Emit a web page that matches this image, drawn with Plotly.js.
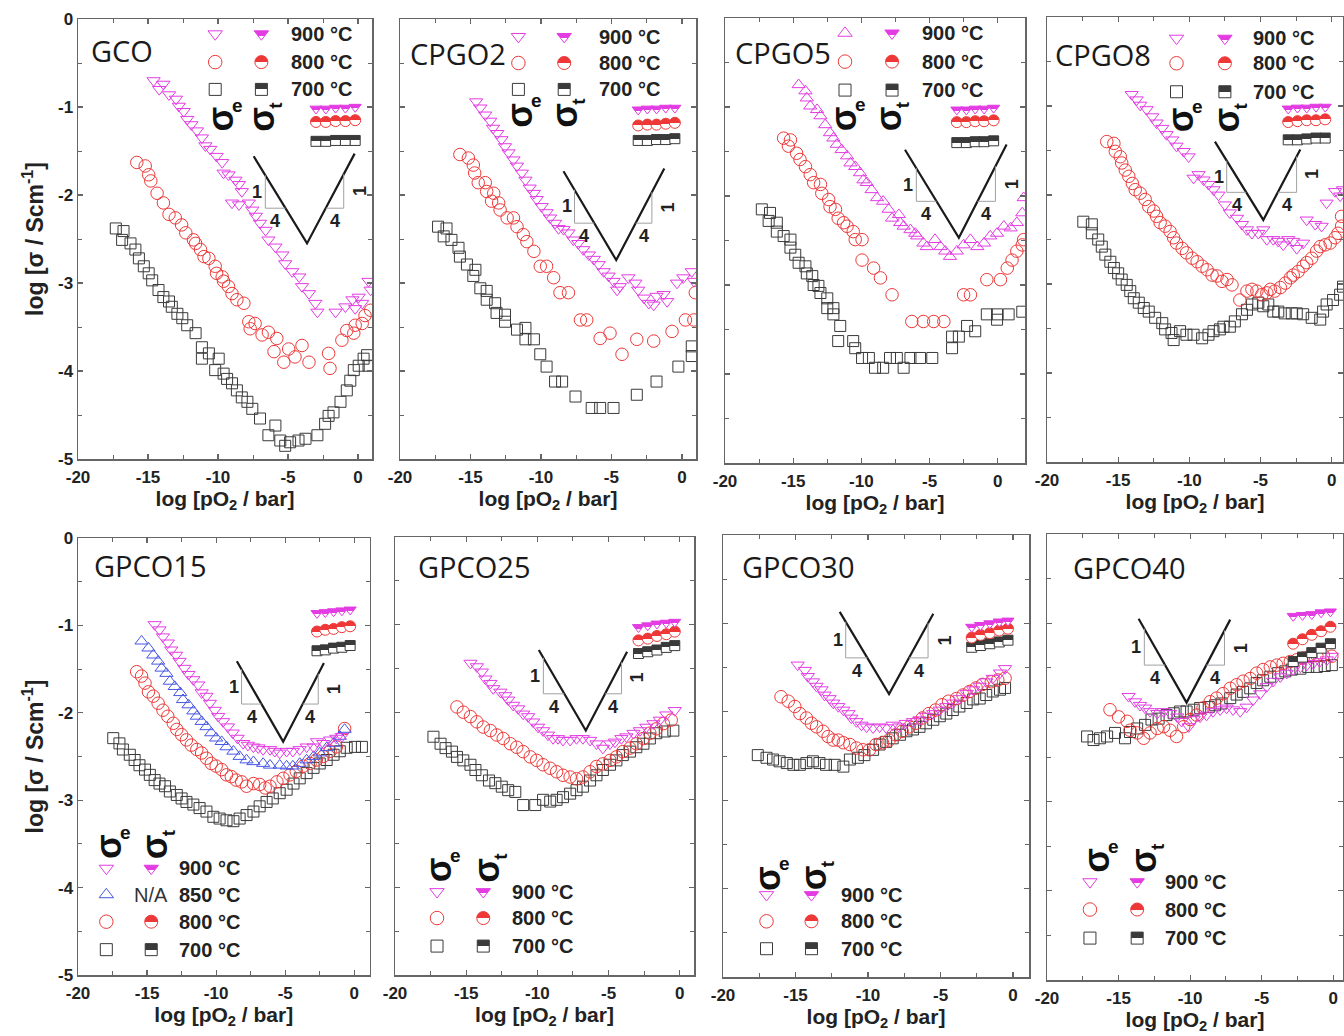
<!DOCTYPE html>
<html><head><meta charset="utf-8">
<script src="https://cdn.plot.ly/plotly-3.0.1.min.js"></script>
<style>html,body{margin:0;padding:0;background:#fff}#chart{width:1344px;height:1036px}</style>
</head><body><div id="chart"></div>
<script>
// ---------------- DATA ----------------
const xTickVals = [-20,-15,-10,-5,0];
const xTickText = ['-20','-15','-10','-5','0'];
const yTickVals = [0,-1,-2,-3,-4,-5];
const yTickText = ['0','-1','-2','-3','-4','-5'];
const tempLabels = ['900 °C','850 °C','800 °C','700 °C'];
const panelNames = ['GCO','CPGO2','CPGO5','CPGO8','GPCO15','GPCO25','GPCO30','GPCO40'];

// GCO
const gco_e900_x = [-14.6,-13.9,-14.2,-13.5,-13.0,-12.8,-12.45,-12.2,-11.9,-11.5,-11.15,-10.9,-10.55,-10.1,-9.7,-9.6,-9.25,-8.75,-8.5,-8.3,-9.0,-8.5,-7.8,-7.55,-7.3,-7.0,-6.6,-6.4,-5.9,-5.4,-5.2,-4.7,-4.2,-4.0,-3.5,-3.05,-2.9,-1.6,-0.9,-0.4,-0.2,0.05,0.75,0.9,0.3];
const gco_e900_y = [-0.70,-0.74,-0.80,-0.86,-0.91,-0.99,-1.05,-1.14,-1.20,-1.27,-1.35,-1.44,-1.48,-1.56,-1.63,-1.75,-1.77,-1.83,-1.88,-1.96,-2.09,-2.11,-2.09,-2.17,-2.24,-2.32,-2.40,-2.51,-2.59,-2.68,-2.78,-2.87,-2.93,-3.04,-3.12,-3.23,-3.33,-3.33,-3.27,-3.19,-3.29,-3.16,-2.98,-3.08,-3.23];
const gco_e800_x = [-15.8,-15.2,-14.95,-14.8,-14.35,-13.9,-13.5,-13.05,-12.6,-12.3,-11.75,-11.6,-11.25,-11.0,-10.65,-10.2,-10.1,-9.7,-9.6,-9.25,-9.0,-8.65,-8.15,-7.8,-7.35,-7.7,-6.85,-6.4,-5.8,-6.0,-5.3,-4.95,-4.5,-4.0,-3.5,-2.1,-2.0,-1.15,-0.8,-0.3,-0.2,0.3,0.5,0.9];
const gco_e800_y = [-1.63,-1.67,-1.77,-1.84,-1.98,-2.09,-2.22,-2.26,-2.34,-2.43,-2.51,-2.55,-2.62,-2.70,-2.72,-2.81,-2.89,-2.93,-2.98,-3.04,-3.12,-3.19,-3.23,-3.44,-3.46,-3.52,-3.59,-3.56,-3.63,-3.78,-3.90,-3.75,-3.84,-3.71,-3.90,-3.80,-3.97,-3.65,-3.54,-3.57,-3.48,-3.46,-3.37,-3.31];
const gco_e700_x = [-17.3,-16.75,-16.85,-16.25,-15.9,-15.65,-15.3,-14.95,-14.7,-14.25,-13.9,-13.5,-13.3,-12.9,-12.55,-12.2,-11.6,-11.15,-11.15,-10.65,-9.95,-10.2,-9.6,-9.35,-9.0,-8.65,-8.3,-7.9,-7.55,-7.0,-5.9,-6.4,-5.55,-5.2,-4.85,-4.25,-3.75,-2.9,-2.35,-2.1,-1.75,-1.25,-0.8,-0.55,-0.3,0.05,0.4,0.65,0.75];
const gco_e700_y = [-2.38,-2.41,-2.51,-2.55,-2.62,-2.72,-2.81,-2.89,-2.97,-3.08,-3.16,-3.21,-3.27,-3.35,-3.40,-3.48,-3.57,-3.73,-3.86,-3.80,-3.86,-3.99,-4.03,-4.09,-4.14,-4.22,-4.30,-4.35,-4.43,-4.54,-4.62,-4.73,-4.79,-4.85,-4.81,-4.79,-4.77,-4.73,-4.60,-4.51,-4.47,-4.35,-4.22,-4.11,-3.99,-3.94,-3.86,-3.82,-3.94];
const gco_t_x = [-3.0,-2.3,-1.6,-0.9,-0.2];
const gco_t900_y = [-1.02,-1.02,-1.01,-1.01,-1.00];
const gco_t800_y = [-1.17,-1.17,-1.16,-1.16,-1.15];
const gco_t700_y = [-1.39,-1.39,-1.38,-1.38,-1.38];

// CPGO2
const c2_e900_x = [-14.6,-14.3,-13.95,-13.6,-13.4,-13.1,-12.8,-12.55,-12.3,-11.95,-11.7,-11.35,-11.1,-10.8,-10.5,-10.3,-9.95,-9.6,-9.35,-9.0,-8.75,-8.4,-8.05,-7.7,-7.35,-7.0,-6.6,-6.25,-5.9,-5.55,-5.2,-4.85,-4.6,-4.4,-3.8,-3.3,-3.1,-2.7,-2.35,-2.0,-1.8,-1.3,-1.05,-0.35,0.1,0.7,0.85];
const c2_e900_y = [-0.94,-1.01,-1.09,-1.16,-1.24,-1.30,-1.37,-1.45,-1.52,-1.60,-1.67,-1.75,-1.83,-1.92,-1.98,-2.05,-2.13,-2.20,-2.26,-2.32,-2.38,-2.39,-2.43,-2.51,-2.55,-2.62,-2.68,-2.73,-2.79,-2.87,-2.92,-2.98,-3.08,-3.04,-2.94,-3.00,-3.08,-3.17,-3.23,-3.25,-3.15,-3.13,-3.21,-3.00,-2.94,-2.87,-2.98];
const c2_e800_x = [-15.75,-15.15,-14.8,-14.7,-14.45,-13.95,-13.85,-13.35,-13.5,-13.0,-12.9,-12.4,-11.95,-11.7,-11.25,-11.0,-10.5,-10.05,-9.6,-9.1,-8.65,-8.05,-7.2,-6.75,-5.8,-5.1,-4.25,-3.2,-2.0,-0.7,0.25,0.85,0.95];
const c2_e800_y = [-1.54,-1.58,-1.66,-1.75,-1.86,-1.86,-1.96,-1.98,-2.07,-2.09,-2.17,-2.26,-2.26,-2.36,-2.45,-2.53,-2.64,-2.81,-2.81,-2.94,-3.11,-3.11,-3.42,-3.42,-3.63,-3.57,-3.81,-3.64,-3.66,-3.55,-3.42,-3.42,-3.11];
const c2_e700_x = [-17.3,-16.7,-16.9,-16.35,-15.85,-15.75,-15.25,-14.65,-14.8,-14.3,-13.85,-13.85,-13.25,-13.15,-12.55,-12.55,-11.7,-11.1,-11.1,-10.5,-10.05,-9.6,-9.0,-8.5,-7.55,-6.4,-5.8,-4.85,-3.2,-1.8,-0.25,0.7,0.7];
const c2_e700_y = [-2.36,-2.38,-2.47,-2.51,-2.60,-2.70,-2.79,-2.85,-2.92,-3.06,-3.09,-3.19,-3.23,-3.34,-3.36,-3.44,-3.53,-3.51,-3.64,-3.64,-3.81,-3.95,-4.12,-4.12,-4.29,-4.42,-4.42,-4.42,-4.27,-4.12,-3.95,-3.83,-3.72];
const c2_t_x = [-3.1,-2.45,-1.8,-1.15,-0.5];
const c2_t900_y = [-1.03,-1.02,-1.02,-1.01,-1.01];
const c2_t800_y = [-1.21,-1.20,-1.20,-1.19,-1.18];
const c2_t700_y = [-1.38,-1.38,-1.37,-1.37,-1.36];

// CPGO5
const c5_e900_x = [-14.6,-14.1,-14.0,-13.75,-13.25,-13.0,-12.65,-12.3,-12.05,-11.8,-11.45,-11.05,-10.8,-10.45,-10.1,-9.85,-9.6,-9.25,-8.85,-8.4,-8.0,-7.75,-7.25,-7.15,-6.9,-6.4,-6.05,-5.9,-5.45,-5.2,-4.6,-4.2,-3.85,-3.5,-3.0,-2.5,-2.0,-1.5,-1.0,-0.55,-0.05,0.45,0.95,1.4,1.8,1.9];
const c5_e900_y = [-0.75,-0.82,-0.90,-0.99,-1.03,-1.10,-1.20,-1.29,-1.35,-1.42,-1.48,-1.55,-1.63,-1.67,-1.74,-1.82,-1.85,-1.93,-2.02,-2.06,-2.15,-2.25,-2.21,-2.30,-2.34,-2.38,-2.42,-2.45,-2.53,-2.57,-2.49,-2.57,-2.62,-2.68,-2.62,-2.55,-2.49,-2.57,-2.53,-2.45,-2.42,-2.34,-2.36,-2.30,-2.19,-2.02];
const c5_e800_x = [-15.7,-15.2,-15.35,-14.75,-14.5,-14.1,-13.75,-13.5,-13.0,-12.9,-12.4,-12.3,-11.9,-11.7,-11.3,-11.05,-10.6,-10.45,-9.95,-9.95,-9.1,-8.6,-7.75,-6.3,-5.45,-4.7,-3.95,-2.5,-2.0,-0.8,0.2,0.7,1.05,1.4,1.8,1.9];
const c5_e800_y = [-1.35,-1.37,-1.44,-1.52,-1.59,-1.67,-1.76,-1.85,-1.87,-1.97,-2.04,-2.12,-2.15,-2.25,-2.30,-2.34,-2.40,-2.49,-2.49,-2.72,-2.81,-2.92,-3.11,-3.41,-3.41,-3.41,-3.41,-3.11,-3.11,-2.94,-2.94,-2.81,-2.72,-2.62,-2.55,-2.49];
const c5_e700_x = [-17.3,-16.7,-16.8,-16.2,-16.2,-15.7,-15.2,-15.2,-14.85,-14.6,-14.1,-14.0,-13.6,-13.5,-13.15,-13.0,-12.5,-12.5,-12.05,-12.05,-11.55,-11.7,-10.6,-10.45,-9.95,-9.45,-9.0,-8.4,-7.9,-7.4,-6.9,-6.4,-5.7,-4.8,-3.35,-3.35,-2.85,-2.25,-1.65,-0.8,-0.05,-0.05,0.8,1.8];
const c5_e700_y = [-2.15,-2.19,-2.28,-2.30,-2.40,-2.45,-2.49,-2.58,-2.66,-2.75,-2.79,-2.87,-2.90,-3.00,-3.01,-3.09,-3.15,-3.26,-3.26,-3.33,-3.46,-3.63,-3.63,-3.71,-3.82,-3.82,-3.93,-3.93,-3.82,-3.82,-3.93,-3.82,-3.82,-3.82,-3.71,-3.58,-3.58,-3.46,-3.52,-3.33,-3.39,-3.33,-3.33,-3.30];
const c5_t_x = [-3.0,-2.3,-1.65,-1.0,-0.3];
const c5_t900_y = [-1.03,-1.03,-1.02,-1.02,-1.01];
const c5_t800_y = [-1.17,-1.17,-1.16,-1.16,-1.15];
const c5_t700_y = [-1.40,-1.40,-1.39,-1.39,-1.38];

// CPGO8
const c8_e900_x = [-14.05,-13.7,-13.45,-13.0,-12.6,-12.3,-11.9,-11.6,-11.2,-10.9,-10.4,-10.05,-9.7,-9.35,-9.0,-8.65,-8.3,-7.95,-7.5,-7.15,-6.65,-6.3,-5.95,-5.6,-5.15,-4.8,-4.55,-4.1,-3.75,-3.4,-3.05,-2.7,-2.45,-2.0,-1.75,-1.15,-0.7,-0.35,0.25,0.6,0.8];
const c8_e900_y = [-0.87,-0.93,-0.99,-1.04,-1.12,-1.19,-1.25,-1.32,-1.38,-1.45,-1.51,-1.57,-1.81,-1.77,-1.83,-1.88,-1.94,-2.00,-2.11,-2.20,-2.26,-2.33,-2.39,-2.43,-2.43,-2.39,-2.50,-2.50,-2.52,-2.56,-2.50,-2.52,-2.60,-2.54,-2.28,-2.33,-2.35,-2.09,-1.96,-2.01,-1.94];
const c8_e800_x = [-15.8,-15.3,-15.2,-14.85,-14.75,-14.5,-14.25,-14.0,-13.8,-13.45,-13.1,-12.85,-12.5,-12.3,-12.05,-11.7,-11.35,-11.1,-10.9,-10.5,-10.2,-9.8,-9.45,-9.1,-8.75,-8.4,-8.05,-7.7,-7.35,-7.0,-6.45,-5.95,-5.6,-5.25,-4.9,-4.55,-4.3,-4.0,-3.6,-3.25,-2.9,-2.7,-2.35,-2.0,-1.75,-1.4,-1.05,-0.8,-0.45,-0.1,0.25,0.45,0.7,0.7];
const c8_e800_y = [-1.40,-1.42,-1.51,-1.57,-1.64,-1.72,-1.79,-1.87,-1.94,-1.98,-2.05,-2.13,-2.18,-2.24,-2.31,-2.35,-2.41,-2.48,-2.54,-2.60,-2.65,-2.71,-2.75,-2.80,-2.84,-2.90,-2.91,-2.97,-2.95,-3.01,-3.18,-3.08,-3.06,-3.08,-3.12,-3.10,-3.06,-3.08,-3.04,-2.99,-2.93,-2.90,-2.86,-2.80,-2.76,-2.71,-2.63,-2.58,-2.56,-2.54,-2.48,-2.43,-2.35,-2.24];
const c8_e700_x = [-17.45,-16.85,-16.85,-16.4,-16.15,-15.9,-15.55,-15.3,-15.0,-14.75,-14.4,-14.15,-13.9,-13.55,-13.2,-12.85,-12.4,-11.9,-11.7,-11.25,-11.1,-10.65,-10.2,-9.7,-9.1,-8.65,-8.3,-7.85,-7.6,-7.15,-6.8,-6.3,-5.95,-5.6,-5.15,-4.8,-4.45,-4.1,-3.75,-3.3,-2.8,-2.45,-2.0,-1.4,-0.8,-0.6,-0.35,0.1,0.6,0.8];
const c8_e700_y = [-2.30,-2.33,-2.43,-2.50,-2.58,-2.67,-2.75,-2.82,-2.88,-2.95,-3.01,-3.08,-3.16,-3.21,-3.27,-3.31,-3.38,-3.44,-3.51,-3.55,-3.63,-3.53,-3.57,-3.57,-3.61,-3.57,-3.53,-3.51,-3.48,-3.48,-3.42,-3.34,-3.29,-3.23,-3.21,-3.25,-3.23,-3.31,-3.31,-3.33,-3.33,-3.33,-3.34,-3.38,-3.40,-3.31,-3.23,-3.18,-3.12,-3.03];
const c8_t_x = [-3.05,-2.4,-1.75,-1.1,-0.45];
const c8_t900_y = [-1.03,-1.02,-1.02,-1.01,-1.01];
const c8_t800_y = [-1.18,-1.17,-1.16,-1.16,-1.15];
const c8_t700_y = [-1.38,-1.38,-1.37,-1.36,-1.36];

// GPCO15
const g15_e900_x = [-14.45,-14.1,-13.85,-13.5,-13.25,-12.9,-12.65,-12.3,-12.0,-11.65,-11.3,-11.05,-10.7,-10.45,-10.1,-9.85,-9.5,-9.15,-8.8,-8.45,-8.05,-7.7,-7.3,-6.95,-6.6,-6.1,-5.75,-5.4,-4.9,-4.45,-3.95,-3.45,-2.95,-2.7,-2.25,-1.75,-1.3,-0.9];
const g15_e900_y = [-0.99,-1.05,-1.13,-1.20,-1.28,-1.34,-1.41,-1.49,-1.56,-1.62,-1.68,-1.77,-1.81,-1.89,-1.97,-2.04,-2.10,-2.16,-2.23,-2.29,-2.35,-2.37,-2.39,-2.40,-2.42,-2.42,-2.44,-2.46,-2.44,-2.44,-2.42,-2.39,-2.39,-2.33,-2.35,-2.31,-2.29,-2.27];
const g15_e850_x = [-15.4,-14.9,-14.55,-14.2,-13.95,-13.6,-13.35,-13.0,-12.6,-12.4,-12.0,-11.65,-11.4,-11.05,-10.7,-10.35,-10.0,-9.6,-9.25,-8.75,-8.3,-7.8,-7.3,-6.6,-6.1,-5.4,-4.9,-4.45,-3.95,-3.45,-2.95,-2.5,-2.0,-1.5,-1.05,-0.7];
const g15_e850_y = [-1.18,-1.26,-1.34,-1.41,-1.49,-1.55,-1.64,-1.70,-1.77,-1.85,-1.91,-1.98,-2.04,-2.10,-2.16,-2.23,-2.29,-2.33,-2.39,-2.44,-2.50,-2.54,-2.56,-2.58,-2.60,-2.60,-2.61,-2.61,-2.58,-2.54,-2.50,-2.46,-2.40,-2.35,-2.27,-2.19];
const g15_e800_x = [-15.75,-15.4,-15.15,-14.9,-14.55,-14.2,-13.85,-13.5,-13.1,-12.85,-12.5,-12.15,-11.8,-11.4,-11.05,-10.7,-10.35,-10.0,-9.6,-9.25,-8.9,-8.55,-8.15,-7.8,-7.3,-6.85,-6.45,-6.1,-5.6,-5.15,-4.65,-4.2,-3.7,-3.2,-2.75,-2.25,-1.75,-1.3,-0.7];
const g15_e800_y = [-1.53,-1.58,-1.66,-1.76,-1.81,-1.89,-1.97,-2.04,-2.12,-2.19,-2.25,-2.31,-2.37,-2.42,-2.46,-2.52,-2.58,-2.61,-2.65,-2.71,-2.73,-2.77,-2.79,-2.84,-2.81,-2.82,-2.86,-2.84,-2.79,-2.75,-2.71,-2.67,-2.61,-2.58,-2.54,-2.50,-2.44,-2.39,-2.18];
const g15_e700_x = [-17.45,-17.0,-16.75,-16.25,-15.9,-15.55,-15.15,-14.8,-14.45,-14.1,-13.7,-13.35,-12.85,-12.5,-12.15,-11.65,-11.2,-10.7,-10.2,-9.75,-9.25,-8.75,-8.3,-7.8,-7.3,-6.85,-6.35,-5.9,-5.4,-4.9,-4.4,-3.95,-3.45,-2.95,-2.5,-2.0,-1.5,-1.05,-0.55,0.05,0.55];
const g15_e700_y = [-2.29,-2.35,-2.42,-2.48,-2.54,-2.60,-2.65,-2.71,-2.77,-2.81,-2.84,-2.90,-2.94,-2.98,-3.02,-3.05,-3.09,-3.13,-3.19,-3.21,-3.23,-3.24,-3.21,-3.17,-3.13,-3.07,-3.02,-2.98,-2.92,-2.88,-2.81,-2.75,-2.69,-2.63,-2.58,-2.54,-2.48,-2.44,-2.40,-2.39,-2.39];
const g15_t_x = [-2.7,-2.1,-1.5,-0.9,-0.3];
const g15_t900_y = [-0.86,-0.85,-0.84,-0.83,-0.82];
const g15_t800_y = [-1.07,-1.05,-1.04,-1.02,-1.01];
const g15_t700_y = [-1.29,-1.28,-1.26,-1.25,-1.23];

// GPCO25
const g25_e900_x = [-14.7,-14.25,-13.9,-13.65,-13.3,-13.1,-12.6,-12.25,-12.05,-11.7,-11.35,-11.0,-10.65,-10.3,-9.95,-9.6,-9.25,-8.9,-8.55,-8.2,-7.7,-7.25,-6.8,-6.3,-5.85,-5.4,-4.9,-4.55,-4.1,-3.75,-3.25,-2.8,-2.35,-1.85,-1.4,-0.95,-0.35];
const g25_e900_y = [-1.44,-1.48,-1.54,-1.62,-1.67,-1.73,-1.77,-1.81,-1.86,-1.92,-1.96,-2.02,-2.05,-2.11,-2.17,-2.21,-2.26,-2.30,-2.30,-2.32,-2.32,-2.30,-2.30,-2.32,-2.36,-2.41,-2.36,-2.34,-2.30,-2.28,-2.24,-2.21,-2.17,-2.13,-2.09,-2.03,-1.98];
const g25_e800_x = [-15.65,-15.2,-14.7,-14.25,-13.8,-13.3,-12.85,-12.4,-11.9,-11.45,-11.0,-10.5,-10.05,-9.6,-9.1,-8.65,-8.2,-7.7,-7.25,-6.8,-6.3,-5.85,-5.4,-4.9,-4.45,-4.0,-3.5,-3.05,-2.55,-2.1,-1.65,-1.15,-0.6];
const g25_e800_y = [-1.94,-2.00,-2.05,-2.11,-2.17,-2.21,-2.26,-2.30,-2.36,-2.40,-2.45,-2.51,-2.55,-2.60,-2.64,-2.68,-2.72,-2.74,-2.76,-2.74,-2.68,-2.62,-2.59,-2.55,-2.51,-2.45,-2.41,-2.36,-2.30,-2.24,-2.19,-2.13,-2.09];
const g25_e700_x = [-17.3,-16.8,-16.45,-16.0,-15.65,-15.2,-14.7,-14.35,-13.9,-13.4,-12.95,-12.5,-12.05,-11.55,-11.0,-10.15,-9.6,-9.1,-8.65,-8.2,-7.7,-7.25,-6.8,-6.3,-5.85,-5.4,-4.9,-4.45,-4.0,-3.5,-3.05,-2.55,-2.1,-1.65,-1.05,-0.45];
const g25_e700_y = [-2.28,-2.36,-2.41,-2.45,-2.51,-2.55,-2.60,-2.66,-2.72,-2.78,-2.81,-2.85,-2.89,-2.91,-3.06,-3.06,-3.00,-3.02,-3.00,-2.97,-2.93,-2.89,-2.85,-2.78,-2.72,-2.66,-2.60,-2.55,-2.49,-2.45,-2.40,-2.36,-2.30,-2.24,-2.22,-2.21];
const g25_t_x = [-2.9,-2.25,-1.6,-0.95,-0.35];
const g25_t900_y = [-1.03,-1.01,-0.99,-0.98,-0.97];
const g25_t800_y = [-1.18,-1.16,-1.13,-1.11,-1.08];
const g25_t700_y = [-1.33,-1.31,-1.29,-1.26,-1.24];

// GPCO30
const g30_e900_x = [-14.85,-14.35,-14.15,-13.8,-13.55,-13.2,-13.0,-12.65,-12.4,-12.05,-11.7,-11.35,-11.15,-10.8,-10.45,-10.1,-9.65,-9.2,-8.75,-8.3,-7.85,-7.4,-6.9,-6.45,-6.0,-5.5,-5.05,-4.6,-4.15,-3.7,-3.2,-2.75,-2.3,-1.85,-1.4,-0.9,-0.55];
const g30_e900_y = [-1.47,-1.53,-1.60,-1.66,-1.71,-1.75,-1.81,-1.85,-1.90,-1.94,-1.98,-2.02,-2.07,-2.11,-2.15,-2.17,-2.18,-2.17,-2.18,-2.15,-2.17,-2.13,-2.11,-2.09,-2.05,-2.02,-1.98,-1.94,-1.90,-1.85,-1.79,-1.75,-1.71,-1.66,-1.62,-1.56,-1.51];
const g30_e800_x = [-16.0,-15.5,-15.05,-14.7,-14.25,-13.9,-13.55,-13.1,-12.75,-12.4,-12.05,-11.7,-11.25,-10.8,-10.35,-9.9,-9.45,-9.0,-8.55,-8.1,-7.65,-7.15,-6.7,-6.25,-5.8,-5.35,-4.9,-4.45,-3.9,-3.45,-3.0,-2.55,-2.1,-1.5,-1.05,-0.55];
const g30_e800_y = [-1.83,-1.88,-1.94,-2.02,-2.07,-2.13,-2.17,-2.22,-2.28,-2.32,-2.32,-2.35,-2.37,-2.41,-2.43,-2.43,-2.37,-2.35,-2.32,-2.26,-2.22,-2.17,-2.13,-2.07,-2.02,-1.98,-1.92,-1.88,-1.85,-1.81,-1.77,-1.73,-1.69,-1.66,-1.64,-1.62];
const g30_e700_x = [-17.6,-17.0,-16.55,-16.1,-15.6,-15.15,-14.7,-14.25,-13.8,-13.35,-12.9,-12.3,-11.7,-11.25,-10.7,-10.25,-9.65,-9.2,-8.75,-8.3,-7.8,-7.35,-6.9,-6.45,-6.0,-5.5,-5.05,-4.6,-4.15,-3.7,-3.2,-2.75,-2.3,-1.85,-1.4,-0.9,-0.55];
const g30_e700_y = [-2.49,-2.52,-2.54,-2.56,-2.58,-2.60,-2.60,-2.58,-2.56,-2.58,-2.60,-2.60,-2.62,-2.54,-2.52,-2.49,-2.43,-2.37,-2.34,-2.30,-2.26,-2.22,-2.20,-2.17,-2.13,-2.09,-2.05,-2.02,-1.98,-1.94,-1.90,-1.86,-1.85,-1.81,-1.77,-1.75,-1.73];
const g30_t_x = [-2.85,-2.25,-1.6,-0.95,-0.35];
const g30_t900_y = [-1.04,-1.02,-1.00,-0.98,-0.97];
const g30_t800_y = [-1.16,-1.13,-1.11,-1.08,-1.06];
const g30_t700_y = [-1.27,-1.25,-1.23,-1.21,-1.19];

// GPCO40
const g40_e900_x = [-14.3,-13.85,-13.5,-13.15,-12.8,-12.3,-11.85,-11.4,-10.9,-10.6,-10.1,-9.75,-9.3,-8.85,-8.4,-7.9,-7.45,-7.0,-6.5,-6.05,-5.6,-5.1,-4.65,-4.2,-3.7,-3.25,-2.8,-2.3,-1.85,-1.4,-0.95,-0.45,-0.1];
const g40_e900_y = [-1.82,-1.88,-1.92,-1.95,-1.99,-2.01,-1.99,-2.01,-2.05,-2.10,-2.16,-2.08,-2.05,-2.03,-1.99,-1.97,-1.95,-1.97,-1.99,-1.94,-1.86,-1.79,-1.71,-1.65,-1.60,-1.56,-1.52,-1.49,-1.47,-1.45,-1.43,-1.41,-1.37];
const g40_e800_x = [-15.6,-15.0,-14.4,-14.2,-13.7,-13.25,-12.8,-12.3,-11.85,-11.4,-10.95,-10.45,-10.0,-9.55,-9.1,-8.6,-8.15,-7.7,-7.2,-6.75,-6.3,-5.8,-5.35,-4.9,-4.4,-3.95,-3.5,-3.0,-2.55,-2.1,-1.65,-1.15,-0.7,-0.1];
const g40_e800_y = [-1.97,-2.05,-2.10,-2.20,-2.23,-2.29,-2.23,-2.18,-2.16,-2.20,-2.27,-2.16,-2.08,-2.03,-1.95,-1.88,-1.84,-1.79,-1.73,-1.69,-1.65,-1.62,-1.56,-1.52,-1.49,-1.47,-1.45,-1.43,-1.41,-1.39,-1.37,-1.36,-1.36,-1.37];
const g40_e700_x = [-17.2,-16.75,-16.3,-15.8,-15.25,-14.55,-14.2,-13.7,-13.15,-12.7,-12.2,-11.65,-11.15,-10.7,-10.25,-9.75,-9.3,-8.7,-8.25,-7.8,-7.2,-6.75,-6.3,-5.8,-5.35,-4.9,-4.4,-3.85,-3.35,-2.9,-2.3,-1.75,-1.15,-0.6,-0.1];
const g40_e700_y = [-2.27,-2.31,-2.29,-2.27,-2.23,-2.29,-2.22,-2.18,-2.14,-2.08,-2.07,-2.03,-2.01,-1.99,-1.99,-1.97,-1.95,-1.94,-1.92,-1.90,-1.84,-1.80,-1.77,-1.73,-1.67,-1.64,-1.60,-1.56,-1.54,-1.52,-1.51,-1.49,-1.49,-1.48,-1.47];
const g40_t_x = [-2.8,-2.15,-1.5,-0.85,-0.2];
const g40_t900_y = [-0.92,-0.91,-0.90,-0.88,-0.87];
const g40_t800_y = [-1.23,-1.18,-1.13,-1.09,-1.04];
const g40_t700_y = [-1.43,-1.38,-1.33,-1.28,-1.23];

// ---------------- STYLE / LAYOUT CONFIG ----------------
const W = 1344, H = 1036;
const FONT = '"Liberation Sans", Arial, sans-serif';
const C = {m:'#E23CE2', b:'#4655E4', r:'#EE3838', k:'#3A3A3A'};
const S = {
  e900:{sym:'triangle-down-open', col:C.m, size:11.5},
  e900u:{sym:'triangle-up-open', col:C.m, size:11.5},
  e850:{sym:'triangle-up-open', col:C.b, size:11.5},
  e800:{sym:'circle-open', col:C.r, size:12.5},
  e700:{sym:'square-open', col:C.k, size:11},
  t900:{sym:'triangle-down', col:C.m, size:10.5},
  t800:{sym:'circle', col:C.r, size:11},
  t700:{sym:'square', col:C.k, size:10}
};

const panels = [
 {box:[78,372,19,459], xr:[-20,1], ylab:true,
  e:[[gco_e700_x,gco_e700_y,'e700'],[gco_e800_x,gco_e800_y,'e800'],[gco_e900_x,gco_e900_y,'e900']],
  t:[gco_t_x,gco_t900_y,gco_t800_y,gco_t700_y],
  leg:{sx:-10.2,tx:-6.9,lx:-4.95,rows:[-0.17,-0.49,-0.80],se:[-9.85,-1.14],st:[-6.9,-1.14]}, lab:[-19.2,-0.36],
  g:{v:[-7.45,-1.56,-3.64,-2.55,-0.24,-1.53], lx:-6.62, rx:-1.02, yb:-2.15}},
 {box:[400,696,19,459], xr:[-20,1],
  e:[[c2_e700_x,c2_e700_y,'e700'],[c2_e800_x,c2_e800_y,'e800'],[c2_e900_x,c2_e900_y,'e900']],
  t:[c2_t_x,c2_t900_y,c2_t800_y,c2_t700_y],
  leg:{sx:-11.6,tx:-8.35,lx:-6.05,rows:[-0.20,-0.50,-0.80],se:[-11.5,-1.09],st:[-8.3,-1.09]}, lab:[-19.4,-0.39],
  g:{v:[-8.4,-1.73,-4.66,-2.74,-1.25,-1.70], lx:-7.62, rx:-2.13, yb:-2.32}},
 {box:[725,1025,18,463], xr:[-20,2],
  e:[[c5_e700_x,c5_e700_y,'e700'],[c5_e800_x,c5_e800_y,'e800'],[c5_e900_x,c5_e900_y,'e900u']],
  t:[c5_t_x,c5_t900_y,c5_t800_y,c5_t700_y],
  leg:{sx:-11.2,tx:-7.75,lx:-5.7,rows:[-0.17,-0.49,-0.81],se:[-11.3,-1.13],st:[-8.0,-1.13], up:true}, lab:[-19.4,-0.39],
  g:{v:[-6.8,-1.48,-2.85,-2.47,0.65,-1.42], lx:-5.97, rx:-0.17, yb:-2.06}},
 {box:[1047,1343,17,462], xr:[-20,0.8],
  e:[[c8_e700_x,c8_e700_y,'e700'],[c8_e800_x,c8_e800_y,'e800'],[c8_e900_x,c8_e900_y,'e900']],
  t:[c8_t_x,c8_t900_y,c8_t800_y,c8_t700_y],
  leg:{sx:-10.9,tx:-7.5,lx:-5.65,rows:[-0.24,-0.52,-0.84],se:[-10.65,-1.16],st:[-7.4,-1.16]}, lab:[-19.6,-0.42],
  g:{v:[-8.2,-1.40,-4.8,-2.28,-2.2,-1.49], lx:-7.37, rx:-2.46, yb:-1.97}},
 {box:[78,369.5,538,975], xr:[-20,1.1], ylab:true,
  e:[[g15_e700_x,g15_e700_y,'e700'],[g15_e800_x,g15_e800_y,'e800'],[g15_e850_x,g15_e850_y,'e850'],[g15_e900_x,g15_e900_y,'e900']],
  t:[g15_t_x,g15_t900_y,g15_t800_y,g15_t700_y],
  leg:{sx:-17.95,tx:-14.7,lx:-12.8,rows:[-3.78,-4.08,-4.39,-4.71],se:[-17.8,-3.53],st:[-14.45,-3.53], na:true}, lab:[-19.0,-0.32],
  g:{v:[-8.5,-1.41,-5.15,-2.33,-2.2,-1.43], lx:-8.16, rx:-2.61, yb:-1.90}},
 {box:[395,694,537,975], xr:[-20,1],
  e:[[g25_e700_x,g25_e700_y,'e700'],[g25_e800_x,g25_e800_y,'e800'],[g25_e900_x,g25_e900_y,'e900']],
  t:[g25_t_x,g25_t900_y,g25_t800_y,g25_t700_y],
  leg:{sx:-17.05,tx:-13.8,lx:-11.95,rows:[-4.05,-4.35,-4.67],se:[-16.95,-3.80],st:[-13.55,-3.80]}, lab:[-18.5,-0.34],
  g:{v:[-9.9,-1.29,-6.6,-2.21,-3.7,-1.31], lx:-9.58, rx:-4.09, yb:-1.79}},
 {box:[723,1029,535,977], xr:[-20,1.1],
  e:[[g30_e700_x,g30_e700_y,'e700'],[g30_e800_x,g30_e800_y,'e800'],[g30_e900_x,g30_e900_y,'e900']],
  t:[g30_t_x,g30_t900_y,g30_t800_y,g30_t700_y],
  leg:{sx:-17.0,tx:-13.9,lx:-12.0,rows:[-4.07,-4.37,-4.68],se:[-16.9,-3.88],st:[-13.7,-3.88]}, lab:[-18.8,-0.36],
  g:{v:[-11.95,-0.87,-8.55,-1.80,-5.5,-0.89], lx:-11.54, rx:-5.86, yb:-1.39}},
 {box:[1047,1343,534,980], xr:[-20,0.68],
  e:[[g40_e700_x,g40_e700_y,'e700'],[g40_e800_x,g40_e800_y,'e800'],[g40_e900_x,g40_e900_y,'e900']],
  t:[g40_t_x,g40_t900_y,g40_t800_y,g40_t700_y],
  leg:{sx:-17.0,tx:-13.7,lx:-11.9,rows:[-3.90,-4.21,-4.53],se:[-16.55,-3.66],st:[-13.25,-3.66]}, lab:[-18.3,-0.37],
  g:{v:[-13.6,-0.95,-10.25,-1.89,-7.2,-0.96], lx:-13.2, rx:-7.6, yb:-1.47}}
];

// ---------------- BUILD ----------------
const traces = [], shapes = [], annotations = [];
const layout = {width:W, height:H, margin:{l:0,r:0,t:0,b:0}, paper_bgcolor:'#fff', plot_bgcolor:'rgba(0,0,0,0)',
  showlegend:false, shapes:shapes, annotations:annotations, font:{family:FONT, color:'#222'}};
const FR = '#666';
const tickFont = {family:FONT, size:17, color:'#222', weight:'bold'};
const titleFont = {family:FONT, size:21, color:'#222', weight:'bold'};

function openTrace(x, y, st, xa, ya){
  return {type:'scatter', mode:'markers', x:x, y:y, xaxis:xa, yaxis:ya, hoverinfo:'skip',
    marker:{symbol:st.sym, size:st.size, color:st.col, line:{color:st.col, width:1}}};
}
function halfTrace(x, y, st, xa, ya){
  return {type:'scatter', mode:'markers', x:x, y:y, xaxis:xa, yaxis:ya, hoverinfo:'skip',
    marker:{symbol:st.sym, size:st.size, color:st.col, gradient:{type:'vertical', color:'#ffffff'}, line:{color:st.col, width:1}}};
}
function txt(x, y, xa, ya, text, o){
  const a = Object.assign({x:x, y:y, xref:xa, yref:ya, text:text, showarrow:false,
    font:{family:FONT, size:20, color:'#222', weight:'bold'}, xanchor:'left', yanchor:'middle'}, o||{});
  annotations.push(a);
}
const sigFont = {family:FONT, size:36, color:'#111', weight:'bold'};
const supFont = {family:FONT, size:19, color:'#111', weight:'bold'};

panels.forEach((p, i) => {
  const s = i === 0 ? '' : String(i+1);
  const xa = 'x'+s, ya = 'y'+s;
  const [l, r, t, b] = p.box;
  layout['xaxis'+s] = {
    domain:[l/W, r/W], range:p.xr, anchor:ya,
    tickmode:'array', tickvals:xTickVals, ticktext:xTickText,
    ticks:'inside', ticklen:5, tickwidth:1.2, tickcolor:FR,
    minor:{tickmode:'linear', tick0:0, dtick:2.5, ticks:'inside', ticklen:4, tickwidth:1, tickcolor:FR},
    showline:true, linecolor:FR, linewidth:1.5, mirror:'ticks',
    showgrid:false, zeroline:false, tickfont:tickFont, ticklabelstandoff:2,
    title:{text:'log [pO<sub>2</sub> / bar]', font:titleFont, standoff:3}
  };
  const ya_cfg = {
    domain:[1-b/H, 1-t/H], range:[-5,0], anchor:xa,
    tickmode:'array', tickvals:yTickVals, ticktext:yTickText,
    ticks:'inside', ticklen:5, tickwidth:1.2, tickcolor:FR,
    minor:{tickmode:'linear', tick0:0, dtick:0.5, ticks:'inside', ticklen:4, tickwidth:1, tickcolor:FR},
    showline:true, linecolor:FR, linewidth:1.5, mirror:'ticks',
    showgrid:false, zeroline:false, tickfont:tickFont, showticklabels:!!p.ylab
  };
  if (p.ylab) ya_cfg.title = {text:'log [σ / Scm<sup>-1</sup>]', font:{family:FONT, size:23, color:'#222', weight:'bold'}, standoff:8};
  layout['yaxis'+s] = ya_cfg;

  // electronic conductivity series
  p.e.forEach(([x, y, key]) => traces.push(openTrace(x, y, S[key], xa, ya)));
  // total conductivity (half-filled markers)
  const [tx, t9, t8, t7] = p.t;
  traces.push(halfTrace(tx, t7, S.t700, xa, ya));
  traces.push(halfTrace(tx, t8, S.t800, xa, ya));
  traces.push(halfTrace(tx, t9, S.t900, xa, ya));

  // legend
  const L = p.leg;
  const rowsE = L.na ? ['e900','e850','e800','e700'] : ['e900','e800','e700'];
  const rowsT = L.na ? ['t900',null,'t800','t700'] : ['t900','t800','t700'];
  const rowsTxt = L.na ? tempLabels : [tempLabels[0], tempLabels[2], tempLabels[3]];
  rowsE.forEach((k, j) => {
    let st = S[k];
    if (k === 'e900' && L.up) st = S.e900u;
    traces.push(openTrace([L.sx], [L.rows[j]], Object.assign({}, st, {size:st.size+1}), xa, ya));
    if (rowsT[j]) {
      const tt = S[rowsT[j]];
      traces.push(halfTrace([L.tx], [L.rows[j]], Object.assign({}, tt, {size:tt.size+2}), xa, ya));
    } else {
      txt(L.tx, L.rows[j], xa, ya, 'N/A', {xanchor:'center', font:{family:FONT, size:20, color:'#333', weight:'normal'}});
    }
    txt(L.lx, L.rows[j], xa, ya, rowsTxt[j]);
  });
  // sigma labels (rotated glyph as in the original)
  txt(L.se[0], L.se[1], xa, ya, 'σ', {xanchor:'center', textangle:-90, font:sigFont});
  txt(L.se[0], L.se[1], xa, ya, 'e', {xanchor:'center', xshift:17, yshift:14, font:supFont});
  txt(L.st[0], L.st[1], xa, ya, 'σ', {xanchor:'center', textangle:-90, font:sigFont});
  txt(L.st[0], L.st[1], xa, ya, 't', {xanchor:'center', xshift:14, yshift:14, textangle:-90, font:supFont});

  // panel label
  txt(p.lab[0], p.lab[1], xa, ya, panelNames[i], {font:{family:'"Open Sans", "Noto Sans", sans-serif', size:29, color:'#1a1a1a'}});

  // slope guide (1/4)
  const g = p.g; const [xl, yl, xv, yv, xr2, yr2] = g.v;
  shapes.push({type:'path', xref:xa, yref:ya, path:`M${xl},${yl} L${xv},${yv} L${xr2},${yr2}`,
    line:{color:'#1a1a1a', width:2.2}});
  const yTopL = yl + (g.lx - xl)*(yv - yl)/(xv - xl);
  const xCrL = xl + (g.yb - yl)*(xv - xl)/(yv - yl);
  const yTopR = yv + (g.rx - xv)*(yr2 - yv)/(xr2 - xv);
  const xCrR = xv + (g.yb - yv)*(xr2 - xv)/(yr2 - yv);
  shapes.push({type:'path', xref:xa, yref:ya, path:`M${g.lx},${yTopL} L${g.lx},${g.yb} L${xCrL},${g.yb}`,
    line:{color:'#a0a0a0', width:1}});
  shapes.push({type:'path', xref:xa, yref:ya, path:`M${xCrR},${g.yb} L${g.rx},${g.yb} L${g.rx},${yTopR}`,
    line:{color:'#a0a0a0', width:1}});
  const nf = {family:FONT, size:18, color:'#222', weight:'bold'};
  txt(g.lx, (yTopL+g.yb)/2, xa, ya, '1', {xanchor:'right', xshift:-1, font:nf});
  txt((g.lx+xCrL)/2, g.yb, xa, ya, '4', {xanchor:'center', yanchor:'top', yshift:-1, font:nf});
  txt((xCrR+g.rx)/2, g.yb, xa, ya, '4', {xanchor:'center', yanchor:'top', yshift:-1, font:nf});
  txt(g.rx, (yTopR+g.yb)/2, xa, ya, '1', {xanchor:'left', xshift:4, textangle:-90, font:nf});
});

Plotly.newPlot('chart', traces, layout, {staticPlot:true, displayModeBar:false}).then(gd => {
  // make the half-filled markers crisp: upper half coloured, lower half white
  gd.querySelectorAll('linearGradient stop').forEach(st => st.setAttribute('offset', '50%'));
});
</script>
</body></html>
